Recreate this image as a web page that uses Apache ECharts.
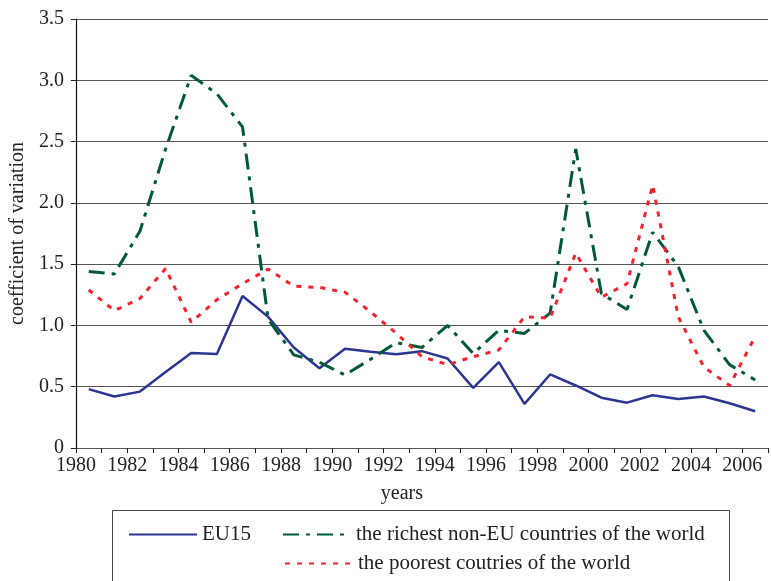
<!DOCTYPE html>
<html>
<head>
<meta charset="utf-8">
<script src="https://cdn.jsdelivr.net/npm/echarts@6/dist/echarts.min.js"></script>
<style>
  html, body { margin: 0; padding: 0; background: #fff; }
  #chart { width: 771px; height: 581px; }
</style>
</head>
<body>
<div id="chart"></div>
<script>
// years (each value sits in the middle of its year band)
const years = [1980, 1981, 1982, 1983, 1984, 1985, 1986, 1987, 1988, 1989, 1990, 1991, 1992, 1993,
  1994, 1995, 1996, 1997, 1998, 1999, 2000, 2001, 2002, 2003, 2004, 2005, 2006];
const eu15 = [0.48, 0.42, 0.46, 0.62, 0.775, 0.767, 1.24, 1.07, 0.82, 0.65, 0.81, 0.785, 0.764, 0.79,
  0.73, 0.49, 0.70, 0.36, 0.60, 0.51, 0.41, 0.37, 0.43, 0.40, 0.42, 0.365, 0.30];
const richest = [1.44, 1.42, 1.77, 2.44, 3.04, 2.89, 2.62, 1.05, 0.76, 0.70, 0.595, 0.725, 0.86, 0.82,
  1.00, 0.77, 0.96, 0.935, 1.10, 2.44, 1.26, 1.13, 1.76, 1.48, 0.96, 0.68, 0.555];
const poorest = [1.29, 1.12, 1.22, 1.465, 1.025, 1.21, 1.34, 1.46, 1.32, 1.31, 1.27, 1.11, 0.935, 0.745,
  0.68, 0.745, 0.80, 1.07, 1.06, 1.59, 1.23, 1.34, 2.145, 1.07, 0.66, 0.51, 0.91];
const yTicks = [0, 0.5, 1.0, 1.5, 2.0, 2.5, 3.0, 3.5];

const seriesNames = ['EU15', 'the richest non-EU countries of the world', 'the poorest coutries of the world'];

const font = 'Liberation Serif';
const toPoints = vals => vals.map((v, i) => [years[i] + 0.5, v]);

const chart = echarts.init(document.getElementById('chart'));

const legendText = { fontFamily: font, fontSize: 21, color: '#222' };

chart.setOption({
  animation: false,
  textStyle: { fontFamily: font, color: '#222' },
  grid: { left: 74, right: 0, top: 19, bottom: 133 },
  xAxis: {
    type: 'value',
    min: years[0],
    max: years[years.length - 1] + 1,
    interval: 1,
    name: 'years',
    nameLocation: 'middle',
    nameGap: 36,
    nameTextStyle: { fontFamily: font, fontSize: 20, color: '#222', padding: [0, 40, 0, 0] },
    axisLine: { lineStyle: { color: '#555', width: 1 } },
    axisTick: { length: 5, lineStyle: { color: '#222' } },
    axisLabel: {
      fontFamily: font, fontSize: 20, color: '#222', margin: 8,
      formatter: v => (v % 2 === 0 ? String(v) : '')
    },
    splitLine: { show: false }
  },
  yAxis: {
    type: 'value',
    min: yTicks[0],
    max: yTicks[yTicks.length - 1],
    interval: 0.5,
    name: 'coefficient of variation',
    nameLocation: 'middle',
    nameGap: 44,
    nameTextStyle: { fontFamily: font, fontSize: 20, color: '#222' },
    axisLine: { show: true, lineStyle: { color: '#111', width: 1.2 } },
    axisTick: { show: true, length: 5, lineStyle: { color: '#222' } },
    axisLabel: {
      fontFamily: font, fontSize: 20, color: '#222', margin: 12,
      formatter: v => (v === 0 ? '0' : v.toFixed(1))
    },
    splitLine: { lineStyle: { color: '#555', width: 1.2 } }
  },
  legend: [
    {
      data: [seriesNames[0], seriesNames[1]],
      left: 128, top: 524, padding: 0,
      itemWidth: 68, itemHeight: 14, itemGap: 31,
      itemStyle: { opacity: 0 },
      textStyle: legendText
    },
    {
      data: [seriesNames[2]],
      left: 284, top: 553, padding: 0,
      itemWidth: 68, itemHeight: 14,
      itemStyle: { opacity: 0 },
      textStyle: legendText
    }
  ],
  graphic: [
    {
      type: 'rect',
      shape: { x: 112.5, y: 510.5, width: 617, height: 90 },
      style: { fill: 'none', stroke: '#444', lineWidth: 1 },
      silent: true
    }
  ],
  series: [
    {
      name: seriesNames[0], type: 'line', data: toPoints(eu15),
      symbol: 'none', color: '#2d3592',
      lineStyle: { width: 2.5, color: '#2d3592' }
    },
    {
      name: seriesNames[1], type: 'line', data: toPoints(richest),
      symbol: 'none', color: '#005a3a',
      lineStyle: { width: 3, color: '#005a3a', type: [16, 7, 4, 7] }
    },
    {
      name: seriesNames[2], type: 'line', data: toPoints(poorest),
      symbol: 'none', color: '#f5222d',
      lineStyle: { width: 3, color: '#f5222d', type: [5, 7] }
    }
  ]
});
</script>
</body>
</html>
